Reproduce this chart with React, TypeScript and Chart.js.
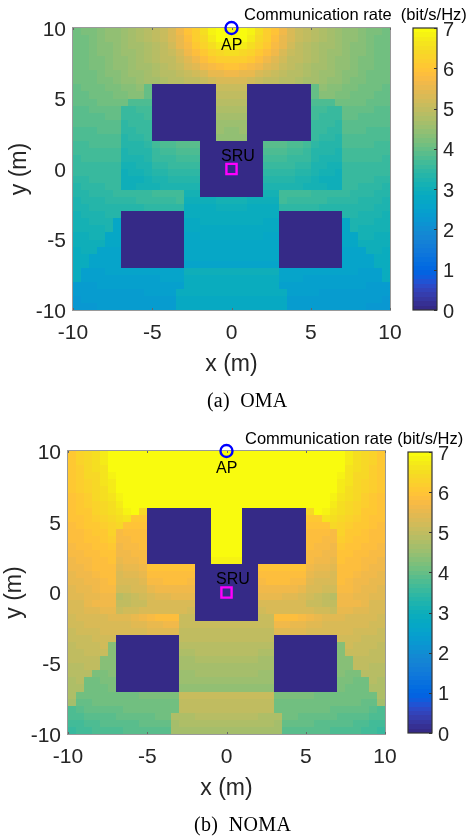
import React, { useEffect, useRef } from "react";
import { Chart, registerables } from "chart.js";

Chart.register(...registerables);

// MATLAB parula, 64 levels
const parula: number[][] = [
  [0.2081,0.1663,0.5292],[0.2116,0.1898,0.5777],[0.2123,0.2138,0.627],[0.2081,0.2386,0.6771],
  [0.1959,0.2645,0.7279],[0.1707,0.2919,0.7792],[0.1253,0.3242,0.8303],[0.0591,0.3598,0.8683],
  [0.0117,0.3875,0.882],[0.006,0.4086,0.8828],[0.0165,0.4266,0.8786],[0.0329,0.443,0.872],
  [0.0498,0.4586,0.8641],[0.0629,0.4737,0.8554],[0.0723,0.4887,0.8467],[0.0779,0.504,0.8384],
  [0.0793,0.52,0.8312],[0.0749,0.5375,0.8263],[0.0641,0.557,0.824],[0.0488,0.5772,0.8228],
  [0.0343,0.5966,0.8199],[0.0265,0.6137,0.8135],[0.0239,0.6287,0.8038],[0.0231,0.6418,0.7913],
  [0.0228,0.6535,0.7768],[0.0267,0.6642,0.7607],[0.0384,0.6743,0.7436],[0.059,0.6838,0.7254],
  [0.0843,0.6928,0.7062],[0.1133,0.7015,0.6859],[0.1453,0.7098,0.6646],[0.1801,0.7177,0.6424],
  [0.2178,0.725,0.6193],[0.2586,0.7317,0.5954],[0.3022,0.7376,0.5712],[0.3482,0.7424,0.5473],
  [0.3953,0.7459,0.5244],[0.442,0.7481,0.5033],[0.4871,0.7491,0.484],[0.53,0.7491,0.4661],
  [0.5709,0.7485,0.4494],[0.6099,0.7473,0.4337],[0.6473,0.7456,0.4188],[0.6834,0.7435,0.4044],
  [0.7184,0.7411,0.3905],[0.7525,0.7384,0.3768],[0.7858,0.7356,0.3633],[0.8185,0.7327,0.3498],
  [0.8507,0.7299,0.336],[0.8824,0.7274,0.3217],[0.9139,0.7258,0.3063],[0.945,0.7261,0.2886],
  [0.9739,0.7314,0.2666],[0.9938,0.7455,0.2403],[0.999,0.7653,0.2164],[0.9955,0.7861,0.1967],
  [0.988,0.8066,0.1794],[0.9789,0.8271,0.1633],[0.9697,0.8481,0.1475],[0.9626,0.8705,0.1309],
  [0.9589,0.8949,0.1132],[0.9598,0.9218,0.0948],[0.9661,0.9514,0.0755],[0.9763,0.9831,0.0538],
];

// Left half of each map, top row (y = 10) first; the right half is its mirror image.
const omaRows: number[][] = [
  [4.12,4.18,4.25,4.3,4.4,4.45,4.5,4.6,4.75,4.85,4.95,5.05,5.3,5.6,5.95,6.2,6.5,6.8,7,7],
  [4.1,4.15,4.25,4.3,4.4,4.45,4.5,4.6,4.75,4.85,4.95,5.05,5.25,5.55,5.9,6.15,6.45,6.7,6.95,7],
  [4.1,4.15,4.2,4.3,4.35,4.45,4.5,4.6,4.7,4.8,4.9,5,5.2,5.5,5.75,6.05,6.3,6.5,6.7,6.8],
  [4.1,4.15,4.2,4.3,4.35,4.45,4.5,4.55,4.65,4.8,4.9,4.95,5.1,5.35,5.6,5.9,6.1,6.3,6.45,6.5],
  [4.1,4.15,4.2,4.25,4.35,4.4,4.45,4.55,4.65,4.75,4.85,4.95,5,5.2,5.4,5.65,5.9,6.05,6.15,6.2],
  [4.05,4.1,4.2,4.25,4.3,4.4,4.45,4.5,4.6,4.7,4.8,4.9,4.95,5.05,5.25,5.4,5.6,5.75,5.9,5.95],
  [4.05,4.1,4.15,4.2,4.3,4.35,4.45,4.5,4.55,4.65,4.75,4.85,4.9,4.95,5.05,5.15,5.35,5.5,5.55,5.6],
  [4.05,4.1,4.15,4.2,4.25,4.3,4.4,4.45,4.5,4.6,4.65,4.75,4.85,4.9,4.95,5,5.1,5.2,5.25,5.3],
  [4,4.05,4.1,4.15,4.2,4.25,4.3,4.35,4.4,3.95,0,0,0,0,0,0,0,0,5.05,5.05],
  [3.95,4,4.05,4.1,4.15,4.2,4.25,4.3,4.35,3.95,0,0,0,0,0,0,0,0,4.95,4.95],
  [3.95,3.95,4,4.05,4.1,4.1,4.15,3.75,3.75,3.8,0,0,0,0,0,0,0,0,4.9,4.9],
  [3.9,3.9,3.95,3.95,4,4,3.55,3.6,3.65,3.7,0,0,0,0,0,0,0,0,4.75,4.75],
  [3.85,3.85,3.9,3.9,3.95,3.95,3.5,3.55,3.6,3.65,0,0,0,0,0,0,0,0,4.65,4.65],
  [3.85,3.85,3.85,3.85,3.9,3.9,3.45,3.5,3.55,3.6,0,0,0,0,0,0,0,0,4.55,4.55],
  [3.8,3.8,3.8,3.85,3.85,3.85,3.4,3.45,3.5,3.55,0,0,0,0,0,0,0,0,4.5,4.45],
  [3.75,3.75,3.8,3.8,3.8,3.8,3.35,3.4,3.45,3.5,0,0,0,0,0,0,0,0,4.4,4.4],
  [3.7,3.7,3.75,3.75,3.75,3.75,3.3,3.3,3.35,3.4,3.7,3.75,3.8,3.85,3.85,3.85,0,0,0,0],
  [3.65,3.65,3.7,3.7,3.7,3.7,3.25,3.3,3.3,3.35,3.6,3.65,3.7,3.75,3.75,3.75,0,0,0,0],
  [3.6,3.65,3.65,3.65,3.65,3.65,3.2,3.25,3.25,3.3,3.5,3.55,3.6,3.65,3.65,3.65,0,0,0,0],
  [3.55,3.6,3.6,3.6,3.6,3.6,3.15,3.15,3.2,3.25,3.4,3.45,3.5,3.55,3.55,3.6,0,0,0,0],
  [3.5,3.55,3.55,3.6,3.6,3.6,3.05,3.1,3.15,3.2,3.3,3.35,3.4,3.4,3.45,3.45,0,0,0,0],
  [3.4,3.45,3.5,3.5,3.55,3.55,3,3.05,3.05,3.1,3.2,3.25,3.3,3.3,3.35,3.35,0,0,0,0],
  [3.35,3.4,3.45,3.45,3.5,3.5,3.05,3.05,3.1,3.1,3.15,3.2,3.2,3.2,3.25,3.2,0,0,0,0],
  [3.3,3.35,3.4,3.4,3.45,3.5,3.5,3.55,3.6,3.6,3.65,3.65,3.7,3.7,3.1,3.1,0,0,0,0],
  [3.25,3.3,3.3,3.35,3.4,3.4,3.45,3.45,3.5,3.5,3.55,3.6,3.6,3.65,3,3,3.05,3.05,3.1,3.1],
  [3.2,3.25,3.3,3.3,3.35,3.35,3.35,3.35,3.35,3.4,3.4,3.45,3.45,3.45,2.9,2.95,2.95,2.95,3,3],
  [3.15,3.2,3.25,3.25,3.3,3.3,0,0,0,0,0,0,0,0,2.85,2.85,2.9,2.9,2.9,2.9],
  [3.1,3.15,3.2,3.2,3.25,2.7,0,0,0,0,0,0,0,0,2.8,2.8,2.85,2.85,2.85,2.85],
  [3.1,3.1,3.15,3.15,3.2,2.7,0,0,0,0,0,0,0,0,2.75,2.8,2.8,2.8,2.8,2.8],
  [3.05,3.05,3.1,3.1,2.65,2.65,0,0,0,0,0,0,0,0,2.7,2.7,2.75,2.75,2.75,2.75],
  [3,3.05,3.05,3.05,2.65,2.65,0,0,0,0,0,0,0,0,2.7,2.7,2.7,2.7,2.7,2.7],
  [2.95,3,3,2.6,2.6,2.6,0,0,0,0,0,0,0,0,2.65,2.65,2.65,2.65,2.65,2.65],
  [2.9,2.95,2.55,2.55,2.6,2.6,0,0,0,0,0,0,0,0,2.65,2.65,2.65,2.65,2.65,2.65],
  [2.9,2.9,2.55,2.55,2.55,2.6,0,0,0,0,0,0,0,0,2.6,2.6,2.6,2.6,2.6,2.6],
  [2.85,2.5,2.5,2.5,2.55,2.55,2.55,2.55,2.55,2.55,2.55,2.6,2.6,2.6,3,3,3,3,3,3],
  [2.85,2.45,2.45,2.45,2.5,2.5,2.5,2.5,2.5,2.5,2.5,2.55,2.55,2.55,2.95,2.95,2.95,2.95,2.95,2.95],
  [2.3,2.4,2.4,2.45,2.45,2.45,2.45,2.45,2.45,2.5,2.5,2.5,2.5,2.5,2.95,2.95,2.9,2.9,2.9,2.9],
  [2.3,2.3,2.35,2.35,2.4,2.4,2.4,2.4,2.4,2.45,2.45,2.45,2.45,2.85,2.85,2.85,2.85,2.85,2.85,2.85],
  [2.25,2.3,2.3,2.35,2.35,2.35,2.35,2.4,2.4,2.4,2.4,2.4,2.4,2.8,2.8,2.8,2.8,2.8,2.8,2.8],
  [2.2,2.25,2.25,2.3,2.3,2.3,2.35,2.35,2.35,2.35,2.35,2.35,2.35,2.75,2.75,2.75,2.75,2.75,2.75,2.75],
];

const nomaRows: number[][] = [
  [6.1,6.25,6.4,6.5,6.7,7,7,7,7,7,7,7,7,7,7,7,7,7,7,7],
  [6.1,6.25,6.4,6.5,6.7,7,7,7,7,7,7,7,7,7,7,7,7,7,7,7],
  [6.1,6.2,6.35,6.5,6.65,6.95,7,7,7,7,7,7,7,7,7,7,7,7,7,7],
  [6.1,6.2,6.35,6.45,6.6,6.85,7,7,7,7,7,7,7,7,7,7,7,7,7,7],
  [6.05,6.15,6.3,6.45,6.6,6.75,7,7,7,7,7,7,7,7,7,7,7,7,7,7],
  [6.05,6.15,6.25,6.4,6.5,6.7,7,7,7,7,7,7,7,7,7,7,7,7,7,7],
  [6,6.1,6.2,6.35,6.5,6.6,6.85,7,7,7,7,7,7,7,7,7,7,7,7,7],
  [6,6.05,6.15,6.3,6.4,6.55,6.7,7,7,7,7,7,7,7,7,7,7,7,7,7],
  [6,6.05,6.1,6.25,6.35,6.5,6.6,6.8,7,6.4,0,0,0,0,0,0,0,0,7,7],
  [5.95,6,6.05,6.15,6.3,6.4,6.5,6.65,6.05,6.05,0,0,0,0,0,0,0,0,7,7],
  [5.9,5.95,6.05,6.1,6.2,6.3,6.45,6,6,6,0,0,0,0,0,0,0,0,7,7],
  [5.85,5.9,6,6.05,6.1,6.25,5.75,5.8,5.85,5.9,0,0,0,0,0,0,0,0,7,7],
  [5.8,5.85,5.95,6,6.05,6.15,5.7,5.75,5.8,5.85,0,0,0,0,0,0,0,0,7,7],
  [5.75,5.8,5.9,5.95,6,6.05,5.65,5.7,5.75,5.8,0,0,0,0,0,0,0,0,7,7],
  [5.7,5.75,5.85,5.9,5.95,6,5.6,5.65,5.7,5.75,0,0,0,0,0,0,0,0,7,7],
  [5.65,5.7,5.75,5.85,5.9,5.95,5.55,5.6,5.65,5.7,0,0,0,0,0,0,0,0,6.85,6.85],
  [5.6,5.65,5.7,5.8,5.85,5.9,5.45,5.5,5.55,5.6,6,6,6,6,6,5.95,0,0,0,0],
  [5.55,5.6,5.65,5.7,5.8,5.85,5.35,5.4,5.45,5.55,5.85,5.9,5.9,5.9,5.9,5.85,0,0,0,0],
  [5.5,5.55,5.6,5.65,5.75,5.8,5.25,5.3,5.35,5.4,5.7,5.75,5.8,5.8,5.8,5.75,0,0,0,0],
  [5.45,5.5,5.55,5.6,5.7,5.75,5.15,5.2,5.25,5.35,5.55,5.6,5.65,5.65,5.65,5.65,0,0,0,0],
  [5.4,5.45,5.5,5.55,5.6,5.65,4.85,4.95,5.05,5.15,5.35,5.4,5.45,5.5,5.5,5.5,0,0,0,0],
  [5.3,5.35,5.55,5.6,5.6,5.6,4.95,5,5.05,5.1,5.25,5.3,5.35,5.35,5.3,5.3,0,0,0,0],
  [5.25,5.3,5.4,5.45,5.5,5.5,5.05,5.15,5.2,5.25,5.25,5.3,5.3,5.3,5.3,5.2,0,0,0,0],
  [5.2,5.25,5.3,5.35,5.35,5.4,5.4,5.45,5.55,5.65,5.75,5.8,5.85,5.85,5.05,5.05,0,0,0,0],
  [5.15,5.2,5.25,5.25,5.3,5.35,5.35,5.35,5.4,5.45,5.5,5.55,5.6,5.6,5.05,5.05,5.05,5.05,5.05,5.05],
  [5.1,5.15,5.2,5.2,5.25,5.25,5.3,5.3,5.35,5.35,5.4,5.4,5.45,5.45,5,5,5,5,5,5],
  [5.05,5.1,5.1,5.15,5.2,5.2,0,0,0,0,0,0,0,0,4.95,4.95,4.95,4.95,4.95,4.95],
  [5,5.05,5.05,5.1,5.15,4.35,0,0,0,0,0,0,0,0,4.85,4.85,4.9,4.9,4.9,4.9],
  [5,5,5.05,5.05,5.1,4.35,0,0,0,0,0,0,0,0,4.75,4.8,4.85,4.85,4.85,4.85],
  [4.95,4.95,5,5,4.3,4.35,0,0,0,0,0,0,0,0,4.7,4.7,4.75,4.75,4.8,4.8],
  [4.9,4.9,4.95,4.95,4.3,4.3,0,0,0,0,0,0,0,0,4.6,4.6,4.65,4.65,4.7,4.7],
  [4.85,4.85,4.9,4.25,4.25,4.3,0,0,0,0,0,0,0,0,4.55,4.55,4.6,4.6,4.65,4.65],
  [4.8,4.85,4.15,4.15,4.2,4.2,0,0,0,0,0,0,0,0,4.5,4.5,4.5,4.5,4.55,4.55],
  [4.75,4.8,4.1,4.15,4.15,4.2,0,0,0,0,0,0,0,0,4.45,4.45,4.45,4.45,4.45,4.45],
  [4.75,4.05,4.05,4.1,4.1,4.1,4.15,4.15,4.15,4.2,4.2,4.2,4.2,4.2,5.05,5.05,5.05,5.05,5.05,5.05],
  [4.7,4,4,4.05,4.05,4.05,4.1,4.1,4.1,4.1,4.15,4.15,4.15,4.15,5,5,5,5,5,5],
  [3.8,3.9,3.95,3.95,4,4,4,4.05,4.05,4.05,4.1,4.1,4.1,4.1,4.95,4.95,4.95,4.95,4.95,4.95],
  [3.75,3.8,3.85,3.85,3.9,3.9,3.95,3.95,4,4,4,4.05,4.05,4.75,4.8,4.8,4.85,4.9,4.9,4.9],
  [3.65,3.7,3.8,3.8,3.85,3.85,3.9,3.9,3.9,3.95,3.95,3.95,3.95,4.7,4.75,4.75,4.75,4.8,4.8,4.8],
  [3.55,3.65,3.7,3.75,3.8,3.8,3.8,3.85,3.85,3.85,3.9,3.9,3.9,4.65,4.7,4.7,4.7,4.7,4.7,4.7],
];

const axisTicks = [-10, -5, 0, 5, 10];
const colorbarTicks = [0, 1, 2, 3, 4, 5, 6, 7];
const rateMax = 7;
const cellSize = 0.5;
const barTitle = ["Communication rate  (bit/s/Hz)", "Communication rate (bit/s/Hz)"];
const captions = ["(a)  OMA", "(b)  NOMA"];
const apPoint = [{ x: 0, y: 10 }];
const sruPoint = [{ x: 0, y: 0 }];
const notes = [
  { text: "AP", x: -0.66, y: 8.78 },
  { text: "SRU", x: -0.66, y: 0.88 },
];

const rateColor = (v: number) => {
  const c = parula[Math.min(63, Math.floor((v / rateMax) * 64))];
  return `rgb(${Math.round(c[0] * 255)},${Math.round(c[1] * 255)},${Math.round(c[2] * 255)})`;
};

const toCells = (rows: number[][]) => {
  const out: { x: number; y: number; v: number }[] = [];
  rows.forEach((row, r) => {
    const full = row.concat([...row].reverse());
    full.forEach((v, c) => {
      out.push({ x: -10 + cellSize * (c + 0.5), y: 10 - cellSize * (r + 0.5), v });
    });
  });
  return out;
};

const heatmapPlugin = {
  id: "heatmap",
  beforeDatasetsDraw(chart: any) {
    const { ctx, scales, chartArea: a } = chart;
    const half = cellSize / 2;
    ctx.save();
    for (const p of chart.data.datasets[0].data) {
      const x0 = Math.round(scales.x.getPixelForValue(p.x - half));
      const x1 = Math.round(scales.x.getPixelForValue(p.x + half));
      const y0 = Math.round(scales.y.getPixelForValue(p.y + half));
      const y1 = Math.round(scales.y.getPixelForValue(p.y - half));
      ctx.fillStyle = rateColor(p.v);
      ctx.fillRect(x0, y0, x1 - x0, y1 - y0);
    }
    ctx.strokeStyle = "#9a9a9a";
    ctx.lineWidth = 1;
    ctx.strokeRect(a.left - 0.5, a.top - 0.5, a.right - a.left + 1, a.bottom - a.top + 1);
    ctx.strokeStyle = "#666";
    ctx.beginPath();
    for (const t of axisTicks) {
      const px = Math.round(scales.x.getPixelForValue(t)) + 0.5;
      ctx.moveTo(px, a.top);
      ctx.lineTo(px, a.top + 2);
      ctx.moveTo(px, a.bottom);
      ctx.lineTo(px, a.bottom - 2);
    }
    ctx.stroke();
    ctx.restore();
  },
  afterDatasetsDraw(chart: any) {
    const { ctx, scales } = chart;
    ctx.save();
    ctx.fillStyle = "#000";
    ctx.font = '16px "Liberation Sans"';
    ctx.textBaseline = "middle";
    ctx.textAlign = "left";
    for (const n of notes) {
      ctx.fillText(n.text, scales.x.getPixelForValue(n.x), scales.y.getPixelForValue(n.y));
    }
    ctx.restore();
  },
};

const colorbarPlugin = {
  id: "colorbar",
  beforeDatasetsDraw(chart: any) {
    const { ctx, scales, chartArea: a } = chart;
    ctx.save();
    parula.forEach((_, i) => {
      const v0 = (i * rateMax) / 64;
      const v1 = ((i + 1) * rateMax) / 64;
      const y0 = Math.round(scales.y.getPixelForValue(v1));
      const y1 = Math.round(scales.y.getPixelForValue(v0));
      ctx.fillStyle = rateColor((v0 + v1) / 2);
      ctx.fillRect(a.left, y0, a.right - a.left, y1 - y0);
    });
    ctx.strokeStyle = "#333";
    ctx.lineWidth = 1.2;
    ctx.strokeRect(a.left, a.top, a.right - a.left, a.bottom - a.top);
    ctx.beginPath();
    for (const t of colorbarTicks) {
      const py = Math.round(scales.y.getPixelForValue(t)) + 0.5;
      ctx.moveTo(a.right, py);
      ctx.lineTo(a.right - 3, py);
    }
    ctx.stroke();
    ctx.restore();
  },
};

const tickFont = { family: '"Liberation Sans"', size: 21 };
const labelFont = { family: '"Liberation Sans"', size: 23 };
const inkColor = "#262626";

function makeMap(canvas: HTMLCanvasElement, rows: number[][]) {
  const axis = (title: string, titlePadding: any, tickPadding: number, labelOffset: number, fit: (s: any) => void) => ({
    type: "linear" as const,
    min: -10,
    max: 10,
    afterFit: fit,
    afterBuildTicks: (s: any) => {
      s.ticks = axisTicks.map((value) => ({ value }));
    },
    grid: { display: false, drawTicks: false },
    border: { display: false },
    ticks: { color: inkColor, font: tickFont, padding: tickPadding, labelOffset, maxRotation: 0, autoSkip: false },
    title: { display: true, text: title, color: inkColor, font: labelFont, padding: titlePadding },
  });
  return new Chart(canvas, {
    type: "scatter",
    data: {
      datasets: [
        { label: "Rate", data: toCells(rows) as any, pointRadius: 0, pointHoverRadius: 0 },
        {
          label: "AP",
          data: apPoint,
          pointStyle: "circle",
          pointRadius: 6,
          pointBorderWidth: 2.4,
          pointBorderColor: "#0000ff",
          pointBackgroundColor: "rgba(0,0,0,0)",
          clip: false,
        },
        {
          label: "SRU",
          data: sruPoint,
          pointStyle: "rect",
          pointRadius: 7.2,
          pointBorderWidth: 2.4,
          pointBorderColor: "#ff00ff",
          pointBackgroundColor: "rgba(0,0,0,0)",
          clip: false,
        },
      ],
    } as any,
    options: {
      animation: false,
      responsive: false,
      devicePixelRatio: 1,
      events: [],
      layout: { autoPadding: false, padding: { top: 28, right: 25, bottom: 0, left: 0 } },
      plugins: { legend: { display: false }, tooltip: { enabled: false } },
      scales: {
        x: axis("x (m)", { top: 0, bottom: 17 }, 11, 0, (s: any) => { s.height = 85; }),
        y: axis("y (m)", { top: 6, bottom: 0 }, 7, 2, (s: any) => { s.width = 73; }),
      },
    } as any,
    plugins: [heatmapPlugin],
  });
}

function makeBar(canvas: HTMLCanvasElement, top: number, bottom: number) {
  return new Chart(canvas, {
    type: "scatter",
    data: {
      datasets: [
        {
          label: "Colour bar",
          data: parula.map((_, i) => ({ x: 0, y: ((i + 0.5) * rateMax) / 64 })),
          pointRadius: 0,
        },
      ],
    },
    options: {
      animation: false,
      responsive: false,
      devicePixelRatio: 1,
      events: [],
      layout: { autoPadding: false, padding: { top, right: 0, bottom, left: 8 } },
      plugins: { legend: { display: false }, tooltip: { enabled: false } },
      scales: {
        x: { display: false, min: 0, max: 1 },
        y: {
          type: "linear",
          position: "right",
          min: 0,
          max: rateMax,
          afterFit: (s: any) => { s.width = 31; },
          afterBuildTicks: (s: any) => {
            s.ticks = colorbarTicks.map((value) => ({ value }));
          },
          grid: { display: false, drawTicks: false },
          border: { display: false },
          ticks: { color: inkColor, font: { family: '"Liberation Sans"', size: 20 }, padding: 6, labelOffset: 2, autoSkip: false },
        },
      },
    } as any,
    plugins: [colorbarPlugin],
  });
}

const abs = (left: number, top: number): React.CSSProperties => ({ position: "absolute", left, top, display: "block" });

const textStyle = (left: number, top: number, font: string, size: number, spacing: number): React.CSSProperties => ({
  position: "absolute",
  left,
  top,
  fontFamily: font,
  fontSize: size,
  lineHeight: "20px",
  letterSpacing: spacing,
  whiteSpace: "pre",
  color: "#000",
});

export default function App() {
  const mapA = useRef<HTMLCanvasElement>(null);
  const barA = useRef<HTMLCanvasElement>(null);
  const mapB = useRef<HTMLCanvasElement>(null);
  const barB = useRef<HTMLCanvasElement>(null);

  useEffect(() => {
    const charts = [
      makeMap(mapA.current!, omaRows),
      makeBar(barA.current!, 28, 85),
      makeMap(mapB.current!, nomaRows),
      makeBar(barB.current!, 29, 86),
    ];
    return () => charts.forEach((c) => c.destroy());
  }, []);

  return (
    <div style={{ position: "absolute", left: 0, top: 0, width: 468, height: 838, overflow: "hidden", background: "#fff" }}>
      <canvas ref={mapA} width={415} height={395} style={abs(0, 0)} />
      <canvas ref={barA} width={63} height={395} style={abs(405, 0)} />
      <canvas ref={mapB} width={415} height={396} style={abs(-5, 423)} />
      <canvas ref={barB} width={63} height={396} style={abs(400, 423)} />
      <div style={textStyle(244, 4, '"Liberation Sans"', 16.5, 0)}>{barTitle[0]}</div>
      <div style={textStyle(245, 428, '"Liberation Sans"', 16.5, 0)}>{barTitle[1]}</div>
      <div style={textStyle(207, 390, '"Liberation Serif"', 20, 0.2)}>{captions[0]}</div>
      <div style={textStyle(194, 814, '"Liberation Serif"', 20, 0.3)}>{captions[1]}</div>
    </div>
  );
}
